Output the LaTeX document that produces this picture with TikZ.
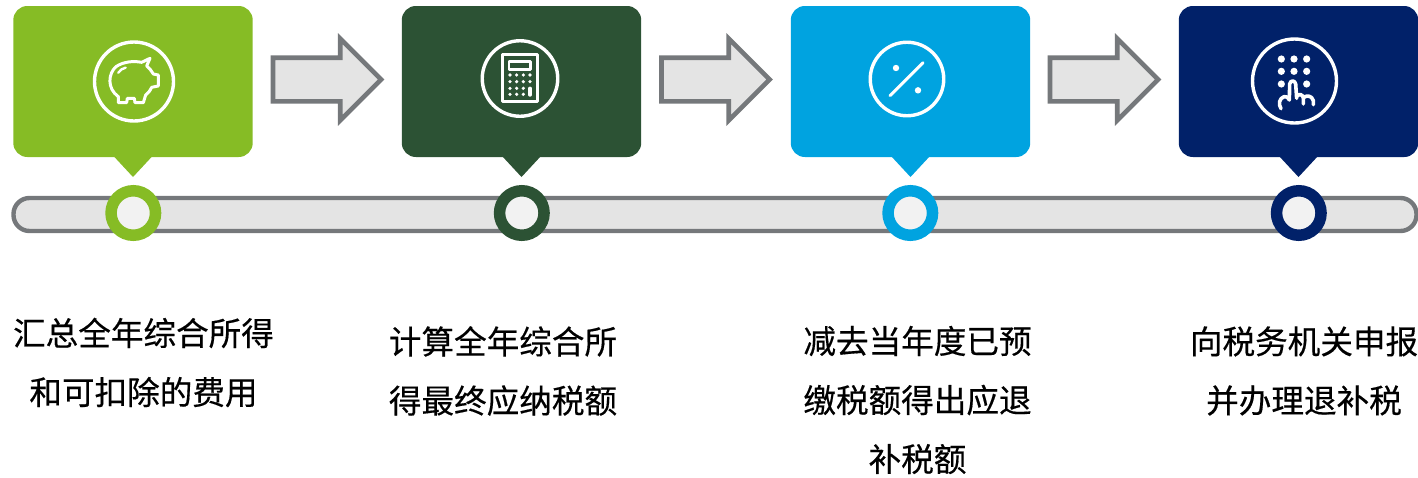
\documentclass[tikz,border=0pt]{standalone}
\usepackage{fontspec}
\setmainfont[FakeBold=0.4]{Noto Sans CJK SC}
\usetikzlibrary{shapes.arrows,calc}
\definecolor{cgreen}{HTML}{86BC25}
\definecolor{cdark}{HTML}{2C5234}
\definecolor{cblue}{HTML}{00A3E0}
\definecolor{cnavy}{HTML}{012169}
\definecolor{cgray}{HTML}{75787B}
\definecolor{cfill}{HTML}{E4E4E4}
\definecolor{chole}{HTML}{F2F2F2}
\tikzset{
  card/.style={rectangle,rounded corners=14pt,minimum width=239.4pt,minimum height=151pt,inner sep=0pt,outer sep=0pt,fill=#1},
  ring/.style={circle,minimum size=44.5pt,inner sep=0pt,outer sep=0pt,line width=11.5pt,draw=#1,fill=chole},
  blockarrow/.style={single arrow,draw=cgray,fill=cfill,line width=4.6pt,inner xsep=0pt,inner ysep=19.5pt,outer sep=0pt,minimum width=0pt,minimum height=108pt,single arrow head extend=19pt,single arrow head indent=0pt,single arrow tip angle=90,anchor=west},
  iconring/.style={circle,draw=white,line width=3.4pt,inner sep=0pt,outer sep=0pt,fill=none},
  icon/.style={draw=white,line width=3pt,line join=round,line cap=round},
  label/.style={align=center,inner sep=0pt,font=\fontsize{32.6}{59}\selectfont,text=black,anchor=center}
}
\newcommand{\pointer}[2]{\fill[#2] ([xshift=-19.5pt,yshift=1pt]#1.south) -- ([xshift=19.5pt,yshift=1pt]#1.south) -- ([yshift=-20pt]#1.south) -- cycle;}
\begin{document}
\begin{tikzpicture}[x=1pt,y=-1pt]
\useasboundingbox (0,0) rectangle (1418,477);
% bar
\node[rectangle,rounded corners=16pt,draw=cgray,fill=cfill,line width=4.4pt,minimum width=1403pt,minimum height=33pt,inner sep=0pt,outer sep=0pt] (bar) at (715,214.5) {};
% cards
\node[card=cgreen] (card1) at (133,81.5) {};
\node[card=cdark]  (card2) at (521.5,81.5) {};
\node[card=cblue]  (card3) at (910.5,81.5) {};
\node[card=cnavy]  (card4) at (1298.5,81.5) {};
\pointer{card1}{cgreen}
\pointer{card2}{cdark}
\pointer{card3}{cblue}
\pointer{card4}{cnavy}
% rings
\node[ring=cgreen] (ring1) at (133.3,213) {};
\node[ring=cdark]  (ring2) at (521.8,213) {};
\node[ring=cblue]  (ring3) at (910.3,213) {};
\node[ring=cnavy]  (ring4) at (1298.8,213) {};
% arrows
\node[blockarrow] (arrow1) at (273,79.5) {};
\node[blockarrow] (arrow2) at (661.5,79.5) {};
\node[blockarrow] (arrow3) at (1050,79.5) {};
% icon circles
\node[iconring,minimum size=79pt] (ic1) at (134,81.5) {};
\node[iconring,minimum size=75.5pt] (ic2) at (520,78.5) {};
\node[iconring,minimum size=73.5pt] (ic3) at (907,79) {};
\node[iconring,minimum size=84pt] (ic4) at (1294.5,81) {};
% piggy
\begin{scope}[shift={(80,30)},x=0.3333pt,y=-0.3333pt]
\draw[icon] (115,200) -- (115,218) -- (140,218) -- (142,205) -- (163,205) -- (165,218) -- (190,218) -- (197,195)
  .. controls (205,190) and (210,182) .. (215,172) -- (235,168) -- (235,135) -- (220,132)
  .. controls (215,122) and (208,115) .. (200,108) -- (210,85) -- (185,97)
  .. controls (160,92) and (130,95) .. (108,110) .. controls (85,130) and (80,175) .. (115,200) -- cycle;
\draw[icon,line width=2.4pt] (115,128) .. controls (120,120) and (128,115) .. (137,113);
\end{scope}
% calculator
\begin{scope}[shift={(460,30)},x=0.3333pt,y=-0.3333pt]
\draw[icon,line width=2.6pt,line cap=butt] (127,73) rectangle (232,215);
\draw[icon,line width=2.6pt,line cap=butt] (147,95) rectangle (212,118);
\foreach \yy in {135,155,175,193} \foreach \xx in {150,170,190} \fill[white] (\xx,\yy) circle (1.8pt);
\foreach \yy in {135,155} \fill[white] (210,\yy) circle (1.8pt);
\draw[icon,line width=3.4pt] (210,175) -- (210,195);
\end{scope}
% percent
\begin{scope}[shift={(850,30)},x=0.3333pt,y=-0.3333pt]
\draw[icon] (120,197) -- (219,98);
\fill[white] (138,114) circle (3.2pt);
\fill[white] (204,181) circle (3.2pt);
\end{scope}
% keypad
\begin{scope}[shift={(1240,30)},x=0.3333pt,y=-0.3333pt]
\foreach \yy in {87,124} \foreach \xx in {124,162,200} \fill[white] (\xx,\yy) circle (3.6pt);
\fill[white] (124,162) circle (3.6pt);
\fill[white] (200,162) circle (3.6pt);
\draw[icon,line width=3.6pt] (123,236) .. controls (114,222) and (118,205) .. (132,200) .. controls (142,200) and (146,204) .. (148,210)
  -- (149,162) .. controls (151,150) and (165,150) .. (167,162) -- (170,205)
  (170,200) .. controls (176,190) and (188,192) .. (190,204) -- (190,222)
  (190,204) .. controls (196,195) and (216,195) .. (220,212) -- (220,224);
\end{scope}
% labels
\node[label] (t1) at (143.5,362.5) {汇总全年综合所得\\和可扣除的费用};
\node[label] (t2) at (503,371) {计算全年综合所\\得最终应纳税额};
\node[label] (t3) at (917.5,400) {减去当年度已预\\缴税额得出应退\\补税额};
\node[label] (t4) at (1304,371) {向税务机关申报\\并办理退补税};
\end{tikzpicture}
\end{document}
